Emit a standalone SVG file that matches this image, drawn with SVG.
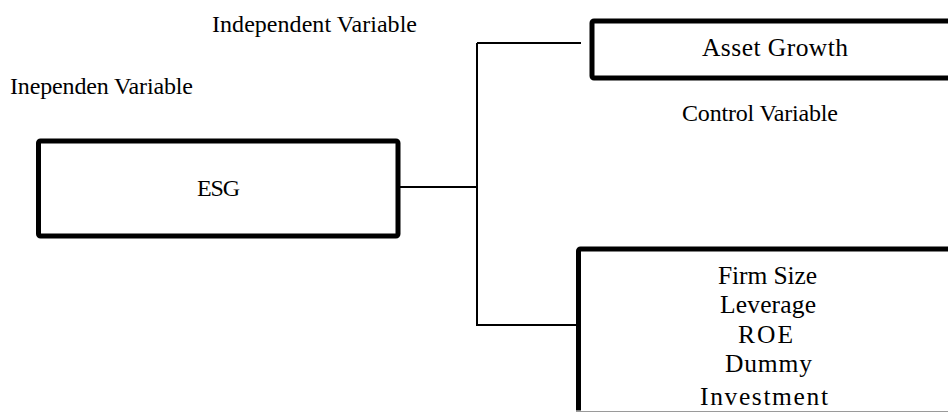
<svg xmlns="http://www.w3.org/2000/svg" width="948" height="413" viewBox="0 0 948 413">
  <defs>
    <style>
      .box { fill: #ffffff; stroke: #000000; stroke-width: 5; }
      .conn { stroke: #000000; stroke-width: 2; fill: none; }
      text { font-family: "Liberation Serif", "Times New Roman", serif; font-size: 24px; fill: #000000; }
      .big { font-size: 25.5px; }
      .c { text-anchor: middle; }
    </style>
    <clipPath id="clipBottom">
      <rect x="0" y="0" width="948" height="410.5"/>
    </clipPath>
  </defs>
  <rect x="0" y="0" width="948" height="413" fill="#ffffff"/>

  <g id="labels">
    <text x="314.5" y="32" class="c" textLength="205">Independent Variable</text>
    <text x="101.5" y="94" class="c" textLength="183">Inependen Variable</text>
    <text x="760" y="121" class="c" textLength="156">Control Variable</text>
  </g>

  <g id="connectors">
    <line class="conn" x1="400" y1="187" x2="477" y2="187"/>
    <line class="conn" x1="477" y1="43" x2="477" y2="326"/>
    <line class="conn" x1="477" y1="43" x2="581" y2="43"/>
    <line class="conn" x1="476" y1="325" x2="577" y2="325"/>
  </g>

  <g id="node-esg">
    <rect class="box" x="38.5" y="141" width="359.5" height="95" rx="2"/>
    <text x="218.5" y="196" class="c" textLength="43">ESG</text>
  </g>

  <g id="node-asset-growth">
    <rect class="box" x="592" y="21" width="400" height="57" rx="2"/>
    <text x="775" y="56" class="c big" textLength="146">Asset Growth</text>
  </g>

  <g id="node-control">
    <g clip-path="url(#clipBottom)">
      <rect class="box" x="578.5" y="249" width="420" height="200" rx="2"/>
      <text x="767.5" y="284" class="c big" textLength="99">Firm Size</text>
      <text x="768" y="313" class="c big" textLength="96">Leverage</text>
      <text x="765.5" y="343" class="c big" textLength="55">ROE</text>
      <text x="768.5" y="372" class="c big" textLength="87">Dummy</text>
      <text x="764" y="405" class="c big" textLength="128">Investment</text>
    </g>
    <line x1="576" y1="411.5" x2="948" y2="411.5" stroke="#9a9a9a" stroke-width="1"/>
  </g>
</svg>
